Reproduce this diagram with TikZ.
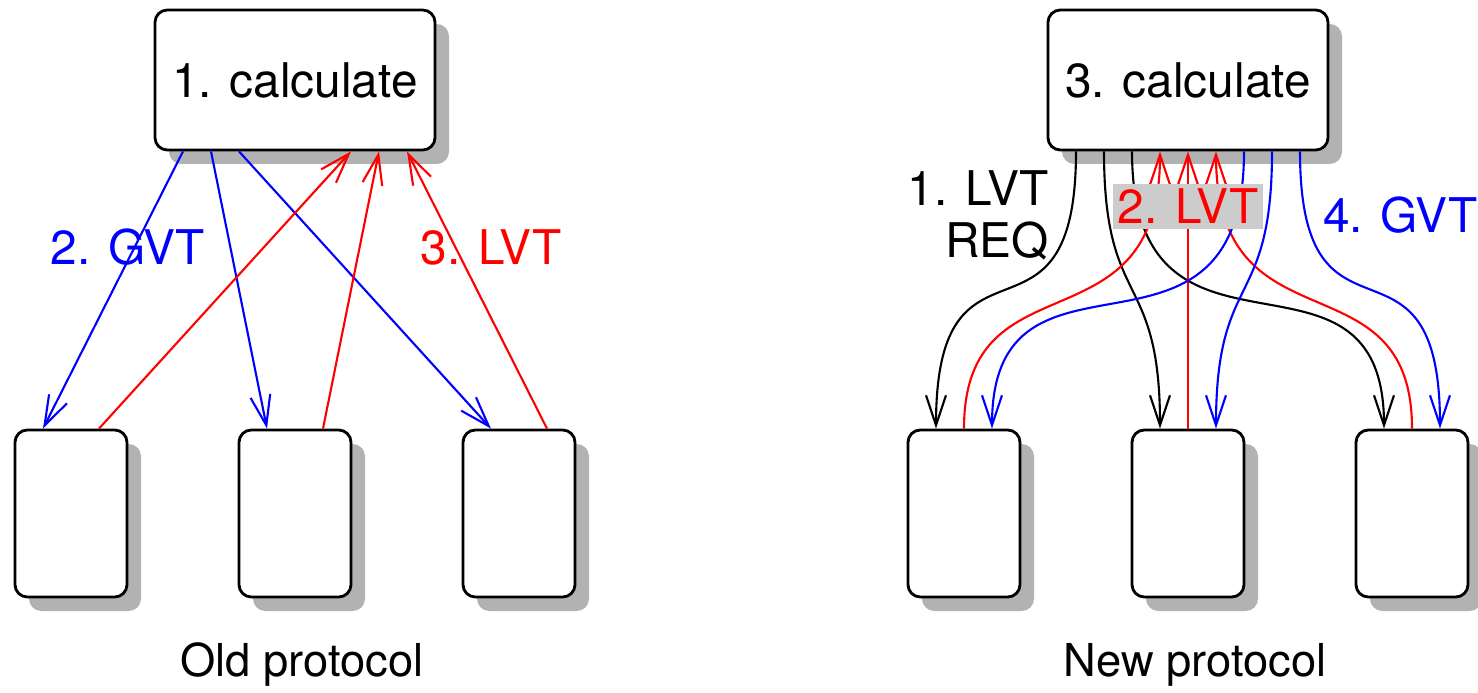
\documentclass[tikz,border=0pt]{standalone}
\usepackage{fontspec}
\setmainfont{TeX Gyre Heros}
\usetikzlibrary{arrows.meta,shadows}
\newcommand\diafont{\fontsize{13.6}{14.8}\selectfont}
\tikzset{
  >={Straight Barb[length=3mm,width=2mm]},
  proc/.style={draw,thick,fill=white,rounded corners=3.5pt,inner sep=2pt,
    drop shadow={shadow xshift=1.4mm,shadow yshift=-1.4mm,fill=black!30,opacity=1}},
  boss/.style={proc,minimum width=28mm,minimum height=14mm},
  peer/.style={proc,minimum width=11.2mm,minimum height=16.7mm},
  msg/.style={->,line width=0.6pt,draw=#1},
  msg/.default=black,
  tag/.style={text=#1,align=right,inner sep=1pt},
  tag/.default=black,
  caption/.style={font=\fontsize{12.9}{15}\selectfont},
}

\begin{document}
\begin{tikzpicture}[font=\diafont]
  \useasboundingbox (0,0) rectangle (14.78,-6.93);
  % old protocol
  \node[boss] (co) at (2.95,-0.80) {1. calculate};
  \foreach \i/\x in {1/0.71,2/2.95,3/5.19}
    \node[peer] (o\i) at (\x,-5.135) {};
  \foreach \i/\s in {1/-11.2,2/-8.4,3/-5.6}
    \draw[msg=blue] ([xshift=\s mm]co.south) -- ([xshift=-2.8mm]o\i.north);
  \foreach \i/\s in {1/5.6,2/8.4,3/11.2}
    \draw[msg=red] ([xshift=2.8mm]o\i.north) -- ([xshift=\s mm]co.south);
  \node[tag=blue] (gvto) at (1.28,-2.47) {2. GVT};
  \node[tag=red] (lvto) at (4.91,-2.47) {3. LVT};
  \node[caption] (oldp) at (3.02,-6.65) {Old protocol};
  % new protocol
  \node[boss] (cn) at (11.88,-0.80) {3. calculate};
  \foreach \i/\x in {1/9.64,2/11.88,3/14.12}
    \node[peer] (n\i) at (\x,-5.135) {};
  \foreach \i/\s/\a/\b in {1/-11.2/2.2/2.2,2/-8.4/1.6/1.6,3/-5.6/2.46/2.11}
    \draw[msg] ([xshift=\s mm]cn.south) .. controls +(0,-\a) and +(0,\b) .. ([xshift=-2.8mm]n\i.north);
  \foreach \i/\s/\a/\b in {1/-2.8/2.04/1.77,2/0/2/2,3/2.8/2.04/1.77}
    \draw[msg=red] (n\i.north) .. controls +(0,\b) and +(0,-\a) .. ([xshift=\s mm]cn.south);
  \foreach \i/\s/\a/\b in {1/5.6/2.46/2.11,2/8.4/1.6/1.6,3/11.2/2.2/2.2}
    \draw[msg=blue] ([xshift=\s mm]cn.south) .. controls +(0,-\a) and +(0,\b) .. ([xshift=2.8mm]n\i.north);
  \node[tag=red,fill=black!20,inner sep=1.4pt] (lvtn) at (11.88,-2.065) {2. LVT};
  \node[tag,anchor=east] (req) at (10.53,-2.15) {1. LVT\\REQ};
  \node[tag=blue,anchor=west] (gvtn) at (13.19,-2.15) {4. GVT};
  \node[caption] (newp) at (11.95,-6.65) {New protocol};
\end{tikzpicture}
\end{document}
